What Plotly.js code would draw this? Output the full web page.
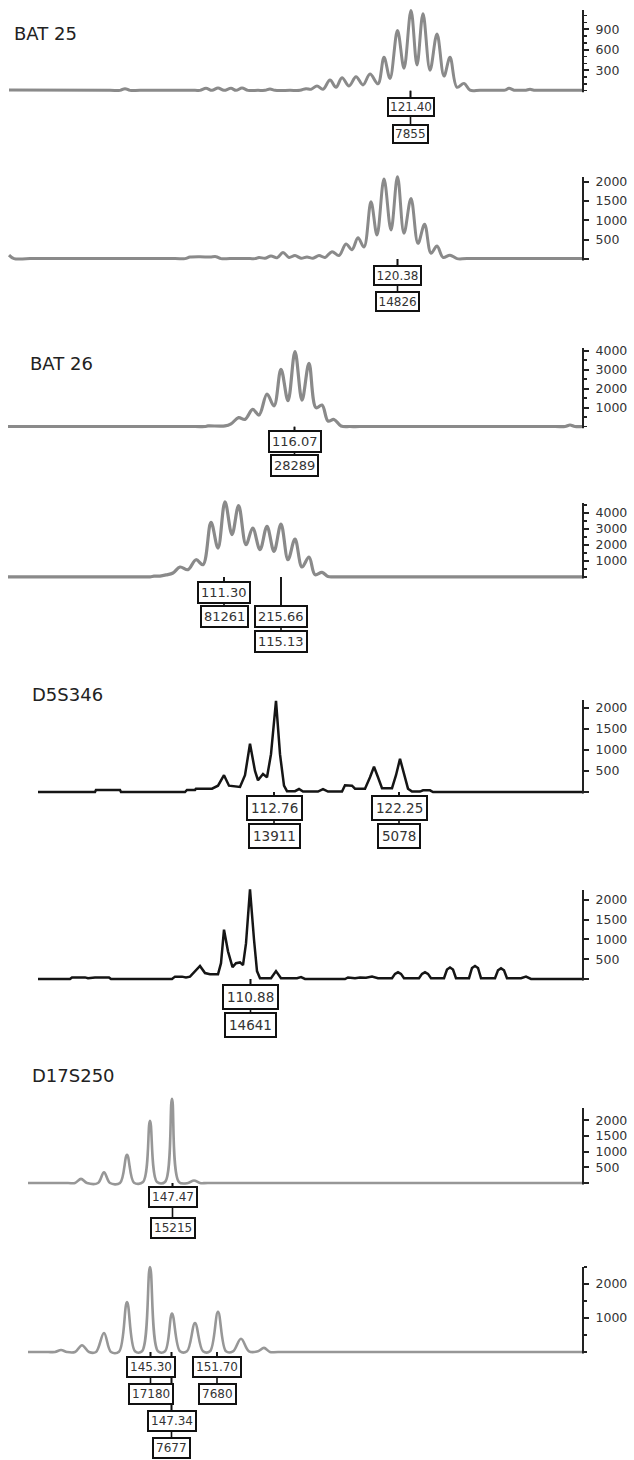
<!DOCTYPE html>
<html><head><meta charset="utf-8">
<script src="https://cdn.plot.ly/plotly-3.0.1.min.js"></script>
<style>html,body{margin:0;padding:0;background:#fff}#chart{width:634px;height:1460px}</style>
</head><body><div id="chart"></div>
<script>
// ---------- DATA (scan position, signal intensity) ----------
const markerNames = ['BAT 25', 'BAT 26', 'D5S346', 'D17S250'];

// BAT 25, upper trace
const bat25aX = [9,110,120,125,130,140,195,200,206,212,218,224,231,236,242,248,258,265,270,275,290,300,306,311,317,323,330,336,342,349,356,363,370,378,384,390,397.5,404,411,417,423,430,437,444,450,457,464,470,480,498,505,509,514,522,526,530,534,545,583];
const bat25aY = [10,5,5,30,5,5,5,5,35,5,40,5,35,5,40,5,5,5,25,5,5,5,30,20,70,20,156,50,190,70,205,85,245,100,490,180,880,330,1176,375,1127,300,830,215,488,50,107,8,8,8,8,35,8,8,8,20,8,8,8];
const bat25aTicks = [300,600,900];
const bat25aPeakX = [410.5];
const bat25aSize = ['121.40'];
const bat25aArea = ['7855'];

// BAT 25, lower trace
const bat25bX = [9,14,30,175,185,190,200,210,216,221,230,250,255,259,265,271,277,283,289,295,301,307,313,319,325,332,339,346,352,358,364,371,377,384,391,397.5,404,411,418,424.6,431,437,443,450,457,467,583];
const bat25bY = [100,10,10,10,10,50,60,50,60,10,10,10,10,40,20,80,30,170,40,90,20,50,20,90,40,190,90,390,240,550,310,1480,620,2070,750,2130,665,1570,405,900,150,335,40,100,10,10,10];
const bat25bTicks = [500,1000,1500,2000];
const bat25bPeakX = [397.5];
const bat25bSize = ['120.38'];
const bat25bArea = ['14826'];

// BAT 26, upper trace
const bat26aX = [8,195,205,208,225,231,238.6,245,252.7,259,267,274,281,288,295,302,309,316,322,328,334,341,350,360,555,565,570,575,583];
const bat26aY = [10,10,10,40,40,150,475,385,910,615,1720,1090,3020,1370,3950,1400,3330,1000,1140,300,380,40,10,10,10,10,90,10,10];
const bat26aTicks = [1000,2000,3000,4000];
const bat26aPeakX = [294.5];
const bat26aSize = ['116.07'];
const bat26aArea = ['28289'];

// BAT 26, lower trace
const bat26bX = [8,140,150,154,160,166,173,180,188,196,203,211,218,225,232,238.6,246,252.7,260,267,274,281,288,295,302,309,315,322,328,334,344,583];
const bat26bY = [10,10,10,50,60,130,250,625,460,1080,770,3420,1810,4700,2650,4460,2020,3060,1710,3170,1600,3310,1080,2375,625,1250,145,290,30,10,10,10];
const bat26bTicks = [1000,2000,3000,4000];
const bat26bPeakX = [224, 281];
const bat26bSize = ['111.30','215.66'];
const bat26bArea = ['81261','115.13'];

// D5S346, upper trace
const d5aX = [38,95,96,120,121,185,187,195,196,212,218,224,229,240,245,250,255,258,263,267,271,276,280,284,287,295,299,303,318,323,328,342,345,352,355,365,370,374,378,382,392,396,400,404,408,412,420,423,430,433,583];
const d5aY = [0,0,50,50,0,0,50,50,80,80,150,400,150,120,400,1150,500,280,430,350,900,2170,900,150,20,20,70,10,10,70,10,10,160,150,80,80,350,600,350,90,90,400,790,400,80,10,10,40,40,0,0];
const d5aTicks = [500,1000,1500,2000];
const d5aPeakX = [274, 399];
const d5aSize = ['112.76','122.25'];
const d5aArea = ['13911','5078'];

// D5S346, lower trace
const d5bX = [38,70,72,85,88,95,109,111,172,175,182,186,190,195,200,205,210,218,221,224,228,232.5,236,240,243,246,250,254,257,260,271,276,281,297,301,305,345,348,355,360,366,372,378,392,395,398,401,404,419,422,425,428,431,444,447,450,453,456,469,472,475,478,481,495,498,501,504,507,521,526,531,583];
const d5bY = [0,0,40,40,20,40,40,0,0,60,60,40,60,200,330,150,120,120,400,1250,700,300,400,420,350,900,2270,1000,200,20,20,200,20,20,50,0,0,40,20,40,30,60,20,20,130,170,130,20,20,130,170,130,20,20,240,290,240,20,20,280,330,280,20,20,220,270,220,20,20,60,0,0];
const d5bTicks = [500,1000,1500,2000];
const d5bPeakX = [250.5];
const d5bSize = ['110.88'];
const d5bArea = ['14641'];

// D17S250, upper trace
const d17aX = [28,68,75,81,87,98,104,110,120,127,134,143,150,157,165,172,179,188,194,200,208,583];
const d17aY = [0,0,0,130,0,0,340,0,0,900,10,30,1980,30,30,2680,30,0,80,0,0,0];
const d17aTicks = [500,1000,1500,2000];
const d17aPeakX = [172.5];
const d17aSize = ['147.47'];
const d17aArea = ['15215'];

// D17S250, lower trace
const d17bX = [28,48,55,61,67,75,82,89,96,104,111,119,127,135,142,150,158,165,172,180,187,195,203,210,218,226,233,241,249,258,264,270,278,583];
const d17bY = [0,0,0,60,0,0,200,0,0,560,0,10,1470,20,20,2500,20,20,1130,20,20,850,20,20,1180,20,20,390,20,20,120,0,0,0];
const d17bTicks = [1000,2000];
const d17bPeakX = [150.5, 217, 171.5];
const d17bSize = ['145.30','151.70','147.34'];
const d17bArea = ['17180','7680','7677'];

// ---------- LAYOUT / STYLE ----------
const W = 634, H = 1460;
const FONT = 'DejaVu Sans';
const GRAY = '#8a8a8a', GRAY2 = '#979797', BLACK = '#151515';

const panels = [
  {x:bat25aX, y:bat25aY, ticks:bat25aTicks, peaks:bat25aPeakX, sizes:bat25aSize, areas:bat25aArea, rows:[0],
   color:GRAY, width:3, shape:'spline', base:90.7, axisTop:10, ppu:0.0683, minor:100,
   lFirst:16, lStep:27, lFont:12, lPad:1},
  {x:bat25bX, y:bat25bY, ticks:bat25bTicks, peaks:bat25bPeakX, sizes:bat25bSize, areas:bat25bArea, rows:[0],
   color:GRAY, width:3, shape:'spline', base:259, axisTop:177, ppu:0.0386, minor:0,
   lFirst:16.5, lStep:26, lFont:12, lPad:1.5},
  {x:bat26aX, y:bat26aY, ticks:bat26aTicks, peaks:bat26aPeakX, sizes:bat26aSize, areas:bat26aArea, rows:[0],
   color:GRAY, width:3.2, shape:'spline', base:426.7, axisTop:348, ppu:0.019, minor:500,
   lFirst:15, lStep:24, lFont:13, lPad:2},
  {x:bat26bX, y:bat26bY, ticks:bat26bTicks, peaks:bat26bPeakX, sizes:bat26bSize, areas:bat26bArea, rows:[0,1],
   color:GRAY, width:3.2, shape:'spline', base:577, axisTop:503, ppu:0.016, minor:500,
   lFirst:15, lStep:24.5, lFont:13, lPad:2},
  {x:d5aX, y:d5aY, ticks:d5aTicks, peaks:d5aPeakX, sizes:d5aSize, areas:d5aArea, rows:[0,0],
   color:BLACK, width:2.5, shape:'linear', base:792, axisTop:700, ppu:0.042, minor:0,
   lFirst:16, lStep:28, lFont:13.5, lPad:3},
  {x:d5bX, y:d5bY, ticks:d5bTicks, peaks:d5bPeakX, sizes:d5bSize, areas:d5bArea, rows:[0],
   color:BLACK, width:2.5, shape:'linear', base:979, axisTop:890, ppu:0.0395, minor:0,
   lFirst:18, lStep:28, lFont:13.5, lPad:3},
  {x:d17aX, y:d17aY, ticks:d17aTicks, peaks:d17aPeakX, sizes:d17aSize, areas:d17aArea, rows:[0],
   color:GRAY2, width:2.6, shape:'spline', base:1183, axisTop:1108, ppu:0.0314, minor:0,
   lFirst:14.5, lStep:31, lFont:12, lPad:2},
  {x:d17bX, y:d17bY, ticks:d17bTicks, peaks:d17bPeakX, sizes:d17bSize, areas:d17bArea, rows:[0,0,2],
   color:GRAY2, width:2.6, shape:'spline', base:1352, axisTop:1267, ppu:0.034, minor:500,
   lFirst:15, lStep:27, lFont:12, lPad:2}
];

// marker titles: [name index, left px, centre px]
const titles = [[0, 12, 34], [1, 28, 363.5], [2, 30, 694.5], [3, 30, 1075]];

const data = [];
const layout = {
  width: W, height: H, margin: {l:0, r:0, t:0, b:0},
  showlegend: false, paper_bgcolor: '#fff', plot_bgcolor: 'rgba(0,0,0,0)',
  font: {family: FONT, color: '#333'},
  annotations: [], shapes: []
};

panels.forEach((p, i) => {
  const n = i + 1;
  const xs = n === 1 ? 'x' : 'x' + n, ys = n === 1 ? 'y' : 'y' + n;
  const xk = n === 1 ? 'xaxis' : 'xaxis' + n, yk = n === 1 ? 'yaxis' : 'yaxis' + n;
  data.push({type:'scatter', mode:'lines', x:p.x, y:p.y, xaxis:xs, yaxis:ys,
    line:{color:p.color, width:p.width, shape:p.shape, smoothing:1}, hoverinfo:'skip'});

  const peak = Math.max(...p.y);
  const domTop = Math.min(p.axisTop, p.base - peak * p.ppu) - 2;
  const bottom = p.base + 3;
  const yMin = -3 / p.ppu, yMax = (p.base - domTop) / p.ppu;
  const axisTopVal = (p.base - p.axisTop) / p.ppu;

  layout[xk] = {domain:[0, 583 / W], range:[0, 583], visible:false, fixedrange:true};
  const minorVals = [];
  if (p.minor) for (let v = 0; v <= axisTopVal; v += p.minor) minorVals.push(v);
  layout[yk] = {
    domain:[1 - bottom / H, 1 - domTop / H], range:[yMin, yMax], anchor:xs, side:'right',
    showgrid:false, zeroline:false, showline:false, fixedrange:true,
    ticks:'outside', ticklen:5, tickwidth:2, tickcolor:'#222',
    tickmode:'array', tickvals:[0, ...p.ticks], ticktext:['', ...p.ticks.map(String)],
    tickfont:{family:FONT, size:12.5, color:'#333'}, ticklabelstandoff:4,
    minor: p.minor ? {tickmode:'array', tickvals:minorVals, ticks:'outside', ticklen:3, tickwidth:1.5, tickcolor:'#222', showgrid:false} : {ticks:''}
  };
  layout.shapes.push({type:'line', xref:xs + ' domain', x0:1, x1:1, yref:ys, y0:-1.5 / p.ppu, y1:axisTopVal,
    line:{color:'#222', width:2}});

  // peak label boxes (size above, area below)
  const boxes = [];
  p.peaks.forEach((px, k) => {
    const r = p.rows[k];
    boxes.push({x:px, text:p.sizes[k], off:p.lFirst + r * p.lStep});
    boxes.push({x:px, text:p.areas[k], off:p.lFirst + (r + 1) * p.lStep});
  });
  boxes.sort((a, b) => b.off - a.off);
  boxes.forEach(b => {
    layout.annotations.push({xref:xs, yref:ys, x:b.x, y:0, text:b.text,
      showarrow:true, arrowhead:0, arrowwidth:1.6, arrowcolor:'#111', ax:0, ay:b.off, standoff:0,
      font:{family:FONT, size:p.lFont, color:'#333'}, bgcolor:'#fff',
      bordercolor:'#111', borderwidth:2, borderpad:p.lPad});
  });
});

titles.forEach(t => {
  layout.annotations.push({xref:'paper', yref:'paper', x:t[1] / W, y:1 - t[2] / H,
    xanchor:'left', yanchor:'middle', showarrow:false, text:markerNames[t[0]],
    font:{family:FONT, size:18, color:'#222'}});
});

Plotly.newPlot('chart', data, layout, {staticPlot:true, displayModeBar:false});
</script></body></html>
